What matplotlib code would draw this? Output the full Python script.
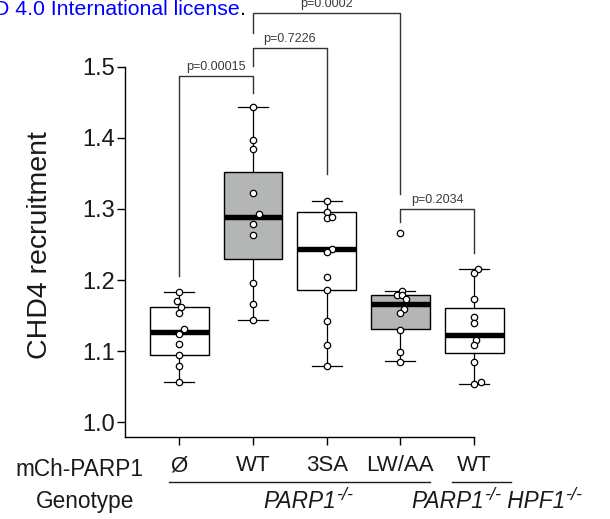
import matplotlib
matplotlib.use('Agg')
import matplotlib.pyplot as plt

plt.rcParams['font.family'] = ['Liberation Sans', 'DejaVu Sans']

# ---------------- data ----------------
categories = ['Ø', 'WT', '3SA', 'LW/AA', 'WT']
positions = [1, 2, 3, 4, 5]

pts_empty = [1.183, 1.1706, 1.1626, 1.154, 1.131, 1.124, 1.1097, 1.095, 1.0796, 1.0567]
pts_wt = [1.4439, 1.397, 1.384, 1.322, 1.293, 1.2785, 1.263, 1.1963, 1.1668, 1.1434]
pts_3sa = [1.3112, 1.2962, 1.2878, 1.2888, 1.2433, 1.240, 1.204, 1.186, 1.1425, 1.109, 1.079]
pts_lwaa = [1.2658, 1.1847, 1.1784, 1.1784, 1.173, 1.160, 1.154, 1.1298, 1.0993, 1.0853]
pts_wt_hpf1 = [1.2156, 1.2095, 1.173, 1.1485, 1.1392, 1.1157, 1.1087, 1.0844, 1.0571, 1.0534]

q1 = [1.095, 1.2297, 1.186, 1.1312, 1.097]
median = [1.1275, 1.289, 1.2433, 1.1664, 1.1228]
q3 = [1.162, 1.3525, 1.2962, 1.179, 1.1612]
whisker_low = [1.0567, 1.1434, 1.079, 1.0862, 1.0534]
whisker_high = [1.183, 1.4439, 1.3112, 1.1847, 1.2156]

# comparisons: (left group, right group, bracket top, left leg end, right leg end, label)
cmp_left = [2, 2, 1, 4]
cmp_right = [4, 3, 2, 5]
cmp_top = [1.576, 1.526, 1.487, 1.2996]
cmp_left_end = [1.547, 1.501, 1.2058, 1.282]
cmp_right_end = [1.3207, 1.349, 1.4627, 1.2377]
cmp_labels = ['p=0.0002', 'p=0.7226', 'p=0.00015', 'p=0.2034']

# ---------------- style ----------------
box_fill = ['white', '#b3b6b5', 'white', '#b3b6b5', 'white']
jitter = [
    [0, -0.027, 0.023, 0, 0.068, 0, 0, 0, 0, 0],
    [0, 0, 0, 0, 0.08, 0, 0, 0, 0, 0],
    [0, 0, 0, 0.072, 0.072, 0, 0, 0, 0, 0, 0],
    [0, 0.023, -0.045, 0.023, 0.08, 0.045, 0, 0, 0, 0],
    [0.058, 0, 0, 0, 0, 0.02, 0, 0, 0.09, 0],
]
all_pts = [pts_empty, pts_wt, pts_3sa, pts_lwaa, pts_wt_hpf1]
text_color = '#1a1a1a'

W, H = 610, 519
fig = plt.figure(figsize=(W / 100, H / 100), dpi=100)
ax_l, ax_r, ax_t, ax_b = 125, 518.3, 9.9, 436.7
ax = fig.add_axes([ax_l / W, 1 - ax_b / H, (ax_r - ax_l) / W, (ax_b - ax_t) / H])
ax.set_xlim(0.263, 5.6)
ax.set_ylim(0.9797, 1.58)

stats = []
for i in range(5):
    stats.append(dict(med=median[i], q1=q1[i], q3=q3[i],
                      whislo=whisker_low[i], whishi=whisker_high[i], fliers=[]))
bp = ax.bxp(stats, positions=positions, widths=0.8, capwidths=0.41,
            patch_artist=True, showfliers=False,
            boxprops=dict(linewidth=1.0, edgecolor='black'),
            medianprops=dict(color='black', linewidth=3.9, solid_capstyle='butt'),
            whiskerprops=dict(color='black', linewidth=0.9),
            capprops=dict(color='black', linewidth=0.9))
for patch, fc in zip(bp['boxes'], box_fill):
    patch.set_facecolor(fc)
for artist_list in bp.values():
    for a in artist_list:
        a.set_clip_on(False)

for i, (pts, jit) in enumerate(zip(all_pts, jitter)):
    xs = [positions[i] + j for j in jit]
    ax.plot(xs, pts, linestyle='none', marker='o', markersize=4.6,
            markerfacecolor='white', markeredgecolor='black',
            markeredgewidth=0.9, zorder=5, clip_on=False)

# significance brackets
bracket_color = '#333333'
for xl, xr, yt, yl, yr, lab in zip(cmp_left, cmp_right, cmp_top,
                                    cmp_left_end, cmp_right_end, cmp_labels):
    ax.plot([xl, xl, xr, xr], [yl, yt, yt, yr], color=bracket_color,
            linewidth=1.0, clip_on=False, zorder=3)
    ax.annotate(lab, xy=((xl + xr) / 2, yt), xytext=(0, 4.3),
                textcoords='offset points', ha='center', va='baseline',
                fontsize=9, color='#3a3a3a', annotation_clip=False)

# axes styling
for s in ['top', 'right']:
    ax.spines[s].set_visible(False)
ax.spines['left'].set_bounds(0.9797, 1.5)
ax.spines['bottom'].set_bounds(0.263, 5)
for s in ['left', 'bottom']:
    ax.spines[s].set_linewidth(1.0)
ax.set_yticks([1.0, 1.1, 1.2, 1.3, 1.4, 1.5])
ax.set_yticklabels(['1.0', '1.1', '1.2', '1.3', '1.4', '1.5'])
ax.set_xticks(positions)
ax.set_xticklabels(categories)
ax.tick_params(axis='y', length=6, width=1.0, pad=1.5, labelsize=17, labelcolor=text_color)
ax.tick_params(axis='x', length=5.5, width=1.0, pad=8, labelsize=16, labelcolor=text_color)

# y axis title
fig.text(40 / W, 1 - 245 / H, 'CHD4 recruitment', rotation=90, ha='center',
         va='center', fontsize=20.5, color=text_color)

# row labels
fig.text(79 / W, 1 - 476 / H, 'mCh-PARP1', ha='center', va='baseline',
         fontsize=16.3, color=text_color)
fig.text(85 / W, 1 - 508 / H, 'Genotype', ha='center', va='baseline',
         fontsize=16.3, color=text_color)

# underlines grouping the construct labels
fig.add_artist(plt.Line2D([169 / W, 430 / W], [1 - 482.3 / H] * 2,
                          color=text_color, linewidth=1.0))
fig.add_artist(plt.Line2D([452 / W, 511 / W], [1 - 482.3 / H] * 2,
                          color=text_color, linewidth=1.0))

# genotype labels with superscripts
renderer = fig.canvas.get_renderer()


def rich_label(x_px, base_px, pieces):
    x = x_px
    for txt, size, rise in pieces:
        t = fig.text(x / W, 1 - (base_px - rise) / H, txt, ha='left',
                     va='baseline', fontsize=size, style='italic',
                     color=text_color)
        bb = t.get_window_extent(renderer)
        x = bb.x1


rich_label(263, 508, [('PARP1', 16.3, 0), ('-/-', 13, 8)])
rich_label(411, 508, [('PARP1', 16.3, 0), ('-/-', 13, 8), (' HPF1', 16.3, 0),
                      ('-/-', 13, 8)])

# banner fragment at the top
fig.text(239.5 / W, 1 - 15 / H, 'D 4.0 International license', ha='right',
         va='baseline', fontsize=15.3, color='#0000ff')
fig.text(239.5 / W, 1 - 15 / H, '.', ha='left', va='baseline', fontsize=15.3,
         color='black')

fig.savefig('out.png', dpi=100)
